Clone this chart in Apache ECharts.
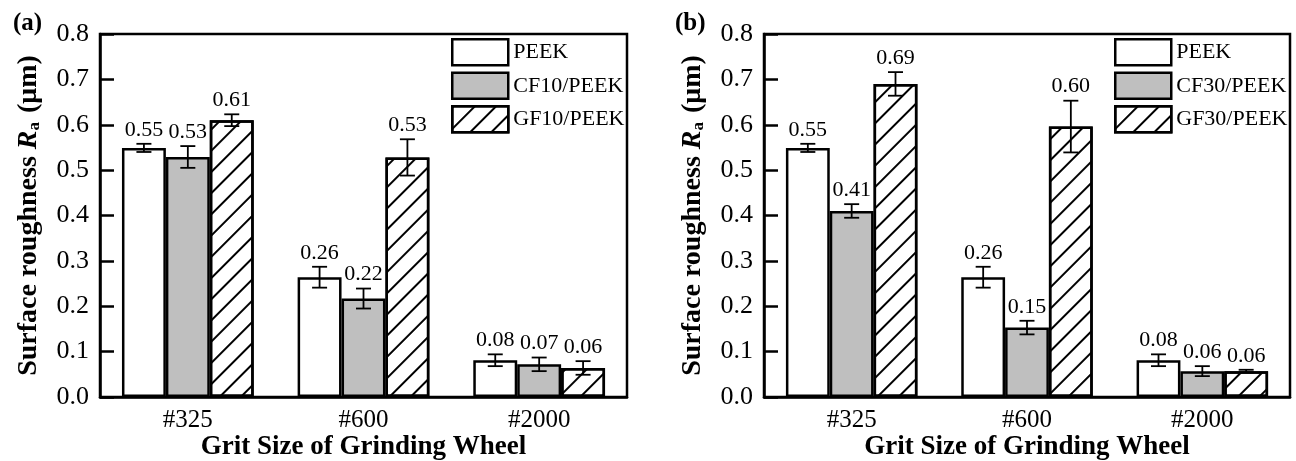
<!DOCTYPE html>
<html>
<head>
<meta charset="utf-8">
<script src="https://cdn.jsdelivr.net/npm/echarts@6/dist/echarts.min.js"></script>
<style>html,body{margin:0;padding:0;background:#fff}#c{width:1296px;height:461px}</style>
</head>
<body>
<div id="c"></div>
<script>
const categories = ['#325', '#600', '#2000'];
const yTicks = [0, 0.1, 0.2, 0.3, 0.4, 0.5, 0.6, 0.7, 0.8];

// Panel (a)
const namesA = ['PEEK', 'CF10/PEEK', 'GF10/PEEK'];
const peekA = [0.549, 0.264, 0.081];
const cf10A = [0.529, 0.217, 0.072];
const gf10A = [0.610, 0.528, 0.064];
const peekErrA = [0.009, 0.023, 0.013];
const cf10ErrA = [0.024, 0.022, 0.015];
const gf10ErrA = [0.013, 0.040, 0.015];

// Panel (b)
const namesB = ['PEEK', 'CF30/PEEK', 'GF30/PEEK'];
const peekB = [0.549, 0.264, 0.081];
const cf30B = [0.410, 0.153, 0.057];
const gf30B = [0.690, 0.596, 0.057];
const peekErrB = [0.009, 0.023, 0.013];
const cf30ErrB = [0.015, 0.015, 0.011];
const gf30ErrB = [0.026, 0.057, 0.003];

const FONT = 'Liberation Serif';
const BLACK = '#000';
const GREY = '#bfbfbf';
const hatch = {
  symbol: 'rect', color: BLACK, backgroundColor: null,
  dashArrayX: [1, 0], dashArrayY: [2, 13], rotation: -Math.PI / 4, symbolSize: 1
};
const styles = [
  { color: '#fff', borderColor: BLACK, borderWidth: 2.5 },
  { color: GREY, borderColor: BLACK, borderWidth: 2.5 },
  { color: '#fff', borderColor: BLACK, borderWidth: 2.5, decal: hatch }
];

function grids() {
  return [
    { left: 100, right: 669, top: 34, bottom: 64, show: true, borderColor: BLACK, borderWidth: 2.5,
      containLabel: false, outerBoundsMode: 'none' },
    { left: 764, right: 6, top: 34, bottom: 64, show: true, borderColor: BLACK, borderWidth: 2.5,
      containLabel: false, outerBoundsMode: 'none' }
  ];
}
function xAxisFor(i) {
  return {
    type: 'category', gridIndex: i, data: categories,
    axisLine: { lineStyle: { color: BLACK, width: 2.5 } },
    axisTick: { inside: true, length: 10, lineStyle: { color: BLACK, width: 2.5 } },
    axisLabel: { color: BLACK, fontFamily: FONT, fontSize: 25, margin: 11 },
    name: 'Grit Size of Grinding Wheel', nameLocation: 'middle', nameGap: 37, nameMoveOverlap: false,
    nameTextStyle: { color: BLACK, fontFamily: FONT, fontSize: 27, fontWeight: 'bold' }
  };
}
function yAxisFor(i) {
  return {
    type: 'value', gridIndex: i, min: 0, max: 0.8, interval: 0.1,
    axisLine: { show: true, lineStyle: { color: BLACK, width: 2.5 } },
    axisTick: { show: true, inside: true, length: 14, lineStyle: { color: BLACK, width: 2.5 } },
    splitLine: { show: false },
    axisLabel: { color: BLACK, fontFamily: FONT, fontSize: 26, margin: 11,
      formatter: v => (yTicks.find(t => Math.abs(t - v) < 1e-9) ?? v).toFixed(1) },
    name: '{b|Surface roughness }{i|R}{s|a}{b| (μm)}',
    nameLocation: 'middle', nameGap: 57, nameRotate: 90, nameMoveOverlap: false,
    nameTextStyle: {
      color: BLACK, fontFamily: FONT, fontSize: 28, fontWeight: 'bold',
      rich: {
        b: { fontFamily: FONT, fontSize: 28, fontWeight: 'bold', color: BLACK },
        i: { fontFamily: FONT, fontSize: 28, fontWeight: 'bold', fontStyle: 'italic', color: BLACK },
        s: { fontFamily: FONT, fontSize: 17, color: BLACK, verticalAlign: 'bottom', padding: [12, 2, 0, 0] }
      }
    }
  };
}

function barSeries(name, vals, k, gi) {
  return {
    type: 'bar', name, data: vals, xAxisIndex: gi, yAxisIndex: gi,
    barWidth: '25%', barGap: '0%', itemStyle: styles[k], z: 2,
    emphasis: { disabled: true }
  };
}
function errSeries(valsList, errList, gi) {
  const data = [];
  valsList.forEach((vals, k) => vals.forEach((v, c) => data.push([c, v, errList[k][c], k - 1])));
  return {
    type: 'custom', xAxisIndex: gi, yAxisIndex: gi, z: 5, silent: true,
    data,
    renderItem(params, api) {
      const c = api.value(0), v = api.value(1), e = api.value(2), off = api.value(3);
      const p = api.coord([c, v]);
      const bw = api.size([1, 0])[0] * 0.25;
      const x = p[0] + off * bw;
      const top = api.coord([c, v + e])[1];
      const bot = api.coord([c, v - e])[1];
      const hw = 7.5;
      const ls = { stroke: BLACK, lineWidth: 1.8 };
      return {
        type: 'group',
        children: [
          { type: 'line', shape: { x1: x, y1: top, x2: x, y2: bot }, style: ls },
          { type: 'line', shape: { x1: x - hw, y1: top, x2: x + hw, y2: top }, style: ls },
          { type: 'line', shape: { x1: x - hw, y1: bot, x2: x + hw, y2: bot }, style: ls },
          { type: 'text', style: { text: v.toFixed(2), x: x, y: top - 3, align: 'center', verticalAlign: 'bottom',
            fontFamily: FONT, fontSize: 22, fill: BLACK } }
        ]
      };
    }
  };
}
function legendFor(names, left) {
  return {
    data: names, orient: 'vertical', left, top: 38, padding: 0,
    itemWidth: 56, itemHeight: 26, itemGap: 5,
    icon: 'rect', selectedMode: false,
    itemStyle: { borderColor: BLACK, borderWidth: 2.5 },
    textStyle: { color: BLACK, fontFamily: FONT, fontSize: 22, padding: [0, 0, 0, 0] }
  };
}

const option = {
  animation: false,
  backgroundColor: '#fff',
  title: [
    { text: '(a)', left: 8, top: 6, textStyle: { fontFamily: FONT, fontSize: 25, fontWeight: 'bold', color: BLACK } },
    { text: '(b)', left: 670, top: 6, textStyle: { fontFamily: FONT, fontSize: 25, fontWeight: 'bold', color: BLACK } }
  ],
  legend: [legendFor(namesA, 451), legendFor(namesB, 1114)],
  grid: grids(),
  xAxis: [xAxisFor(0), xAxisFor(1)],
  yAxis: [yAxisFor(0), yAxisFor(1)],
  series: [
    barSeries(namesA[0], peekA, 0, 0),
    barSeries(namesA[1], cf10A, 1, 0),
    barSeries(namesA[2], gf10A, 2, 0),
    errSeries([peekA, cf10A, gf10A], [peekErrA, cf10ErrA, gf10ErrA], 0),
    barSeries(namesB[0], peekB, 0, 1),
    barSeries(namesB[1], cf30B, 1, 1),
    barSeries(namesB[2], gf30B, 2, 1),
    errSeries([peekB, cf30B, gf30B], [peekErrB, cf30ErrB, gf30ErrB], 1)
  ]
};
const chart = echarts.init(document.getElementById('c'), null, { renderer: 'canvas' });
chart.setOption(option);
</script>
</body>
</html>
